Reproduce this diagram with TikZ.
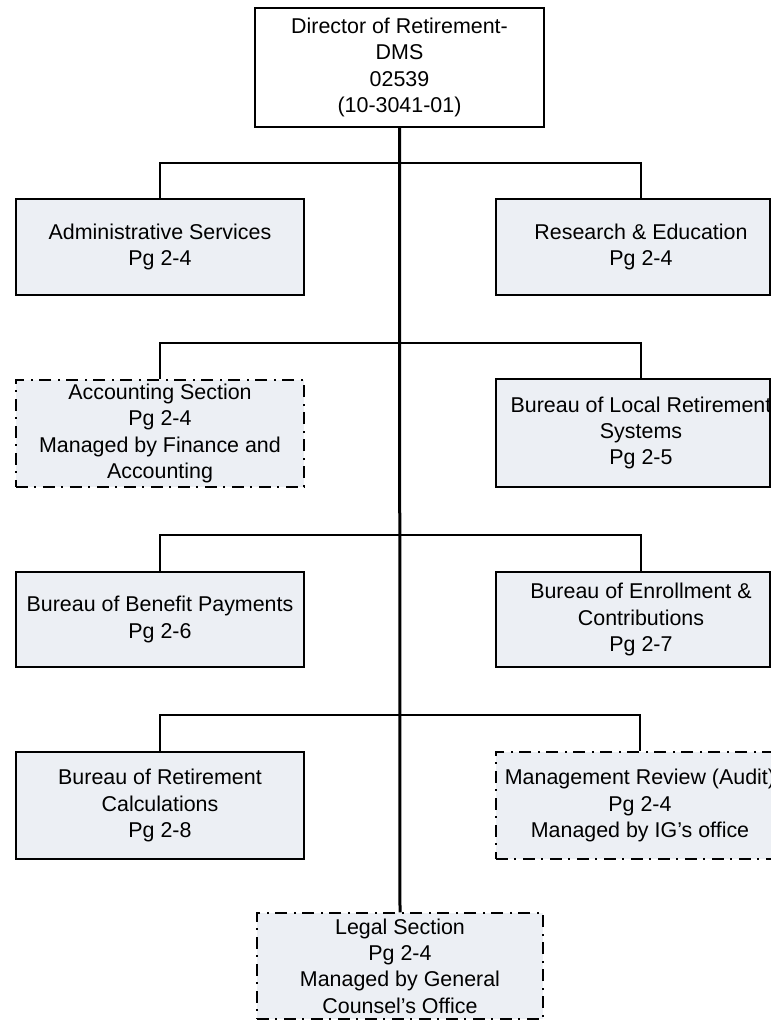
\documentclass[tikz,border=0pt]{standalone}
\usepackage{fontspec}
\setmainfont{Liberation Sans}
\definecolor{boxfill}{RGB}{236,239,244}
\begin{document}
\begin{tikzpicture}[x=1bp,y=-1bp,
  txtfont/.style={font=\fontsize{21.5}{26.5}\selectfont},
  box/.style={draw=black, line width=1.4bp, fill=boxfill, inner sep=0pt, align=center, txtfont},
  dbox/.style={box, dash pattern=on 12bp off 6bp on 2bp off 7bp},
  lbl/.style={align=center, inner sep=0pt, txtfont},
  trunk/.style={line width=3bp},
  branch/.style={line width=1.4bp}]
\useasboundingbox (0,0) rectangle (771,1021);
\clip (0,0) rectangle (771,1021);

% director
\node[box, fill=white, minimum width=289bp, minimum height=119bp] (dir) at (399.5,67.5)
  {Director of Retirement-\\DMS\\02539\\(10-3041-01)};

% row 1
\node[box, minimum width=288bp, minimum height=96bp] (admin) at (160,247)
  {Administrative Services\\Pg 2-4};
\node[box, minimum width=274bp, minimum height=96bp] (res) at (633,247) {};
\node[lbl] (res-t) at (641,247) {Research \& Education\\Pg 2-4};

% row 2
\node[dbox, minimum width=288bp, minimum height=107bp] (acct) at (160,433.5)
  {Accounting Section\\Pg 2-4\\Managed by Finance and\\Accounting};
\node[box, minimum width=274bp, minimum height=108bp] (local) at (633,433) {};
\node[lbl] (local-t) at (641,433) {Bureau of Local Retirement\\Systems\\Pg 2-5};

% row 3
\node[box, minimum width=288bp, minimum height=95bp] (benefit) at (160,619.5)
  {Bureau of Benefit Payments\\Pg 2-6};
\node[box, minimum width=274bp, minimum height=95bp] (enroll) at (633,619.5) {};
\node[lbl] (enroll-t) at (641,619.5) {Bureau of Enrollment \&\\Contributions\\Pg 2-7};

% row 4
\node[box, minimum width=288bp, minimum height=107bp] (calc) at (160,805.5)
  {Bureau of Retirement\\Calculations\\Pg 2-8};
\node[dbox, minimum width=288bp, minimum height=107bp] (audit) at (640,805.5)
  {Management Review (Audit)\\Pg 2-4\\Managed by IG's office};

% legal
\node[dbox, minimum width=286bp, minimum height=106bp] (legal) at (400,966)
  {Legal Section\\Pg 2-4\\Managed by General\\Counsel's Office};

% branch points on the trunk
\coordinate (b1) at (400,163);
\coordinate (b2) at (400,343);
\coordinate (b3) at (400,535);
\coordinate (b4) at (400,715);

\draw[branch] (admin.north) |- (b1) -| (res-t |- res.north);
\draw[branch] (acct.north) |- (b2) -| (local-t |- local.north);
\draw[branch] (benefit.north) |- (b3) -| (enroll-t |- enroll.north);
\draw[branch] (calc.north) |- (b4) -| (audit.north);

\draw[trunk] (dir.south) -- (legal.north);
\end{tikzpicture}
\end{document}
